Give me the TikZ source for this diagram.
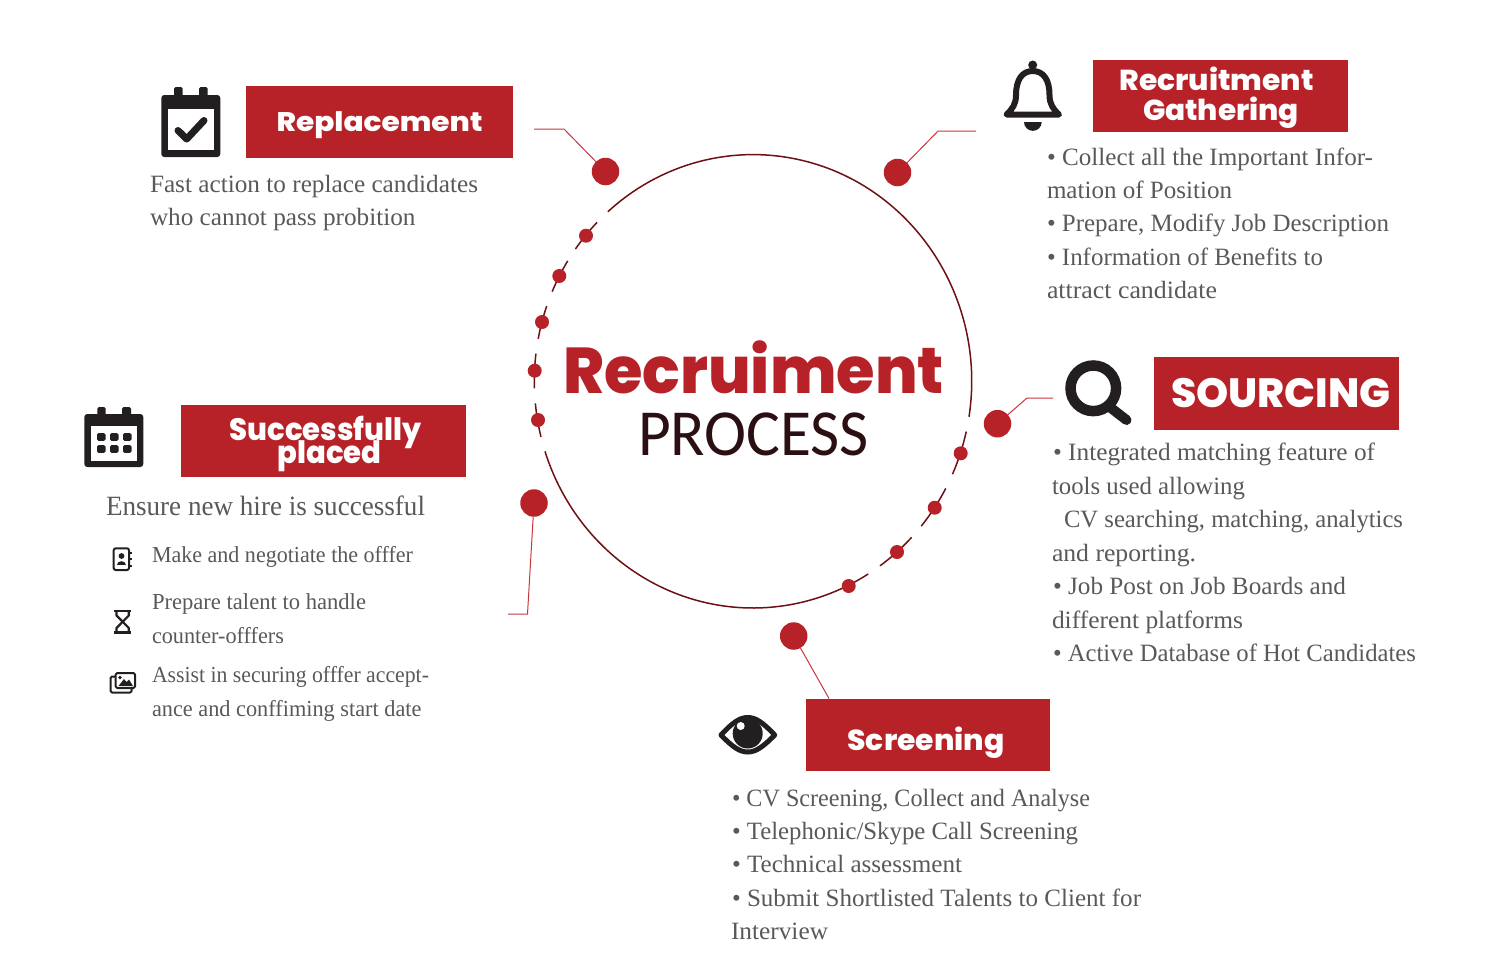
\documentclass[tikz,border=0pt]{standalone}
\usepackage{graphicx}
\usepackage{fontspec}
\setmainfont{Liberation Serif}
\newfontfamily\headf{Poppins}[BoldFont={Poppins ExtraBold}]
\newfontfamily\procf{Carlito}
\definecolor{brand}{HTML}{B72228}
\definecolor{ringc}{HTML}{6E1014}
\definecolor{leadc}{HTML}{C5373D}
\definecolor{bodyc}{HTML}{58595B}
\definecolor{iconc}{HTML}{231F20}
\definecolor{procc}{HTML}{2B0F12}
\newcommand{\bodyline}[6][25]{\node[txt,font=\fontsize{#1}{#1}\selectfont] (#2) at (#3,#4) {\resizebox{#5bp}{\height}{#6}};}
\newcommand{\headline}[6][27]{\node[hd,font=\headf\bfseries\fontsize{#1}{#1}\selectfont] (#2) at (#3,#4) {\resizebox{#5bp}{\height}{#6}};}
\tikzset{
  txt/.style={anchor=base west,inner sep=0pt,outer sep=0pt,text=bodyc},
  hd/.style={anchor=base west,inner sep=0pt,outer sep=0pt,text=white},
  banner/.style={fill=brand,draw=none,inner sep=0pt,outer sep=0pt,anchor=north west},
  bigdot/.style={circle,fill=brand,draw=none,minimum size=27.5bp,inner sep=0pt,outer sep=0pt},
  smalldot/.style={circle,fill=brand,draw=none,minimum size=14bp,inner sep=0pt,outer sep=0pt},
  ringarc/.style={draw=ringc,line width=1.5bp},
  leader/.style={draw=leadc,line width=1bp},
  iconfill/.style={fill=iconc,draw=none},
  iconline/.style={draw=iconc,fill=none,line width=2bp,line join=round},
}
\begin{document}
\begin{tikzpicture}[x=1bp,y=-1bp]
\useasboundingbox (0,0) rectangle (1500,956);
% ring
\foreach \a/\b in {351/491.6,135.5/144.3,147.9/156.7,160.6/169.2,173/181.8,185.6/194.2,198/301.8,305.5/316.5,320.3/331.8,335.8/347.2}
  \draw[ringarc] ({753+218.7*cos(\a)},{381.3-226.7*sin(\a)}) arc[start angle=\a,end angle=\b,x radius=218.7bp,y radius=226.7bp];
\foreach \n/\x/\y in {1/586/235.7,2/559.3/276,3/542/322,4/534.7/370.7,5/538/420,6/960.7/453.3,7/934.7/507.7,8/897/552,9/848.7/586}
  \node[smalldot] (sd\n) at (\x,\y) {};
% banners
\node[banner,minimum width=267bp,minimum height=72.5bp] (bRepl) at (246,85.5) {};
\node[banner,minimum width=284.5bp,minimum height=72.5bp] (bSucc) at (181,404.5) {};
\node[banner,minimum width=254.5bp,minimum height=72.5bp] (bGath) at (1093.3,59.5) {};
\node[banner,minimum width=244.5bp,minimum height=72.5bp] (bSour) at (1154,357) {};
\node[banner,minimum width=244bp,minimum height=72.5bp] (bScre) at (806.3,698.5) {};
% big dots and leaders
\node[bigdot] (dRepl) at (605.5,171.5) {};
\node[bigdot] (dGath) at (897.5,172.5) {};
\node[bigdot] (dSour) at (997.5,423.7) {};
\node[bigdot] (dSucc) at (534,503) {};
\node[bigdot] (dScre) at (793.7,636) {};
\coordinate (eRepl) at (534,129);
\coordinate (eGath) at (976,131);
\coordinate (eSour) at (1053,398);
\coordinate (eSucc) at (508,614);
\coordinate (eScre) at (829,698.5);
\draw[leader] (eRepl) -- (564,129) -- (dRepl);
\draw[leader] (eGath) -- (938,131) -- (dGath);
\draw[leader] (eSour) -- (1027,398) -- (dSour);
\draw[leader] (eSucc) -- (527.5,614) -- (dSucc);
\draw[leader] (eScre) -- (dScre);
% title
\node[hd,text=brand,font=\headf\bfseries\fontsize{65}{65}\selectfont] (tTitle) at (563,393.5) {\resizebox{381bp}{\height}{Recruiment}};
\node[hd,text=procc,font=\procf\fontsize{66}{66}\selectfont] (tProc) at (638,455.5) {\resizebox{231bp}{\height}{PROCESS}};
% headings
\headline{hRepl}{276.5}{131}{206}{Replacement}
\headline[31]{hSuc1}{229.5}{440.5}{192}{Successfully}
\headline[31]{hSuc2}{277.5}{463.5}{104}{placed}
\headline[29]{hGat1}{1119.5}{90}{194}{Recruitment}
\headline[29]{hGat2}{1143}{120}{156}{Gathering}
\headline[41]{hSour}{1171}{407.5}{219.5}{SOURCING}
\headline[29]{hScre}{847.5}{750.5}{157}{Screening}
% body text
\bodyline{t1}{150}{192.7}{328}{Fast action to replace candidates}
\bodyline{t2}{150}{225}{265.5}{who cannot pass probition}
\bodyline[28]{t3}{106}{515}{319}{Ensure new hire is successful}
\bodyline[23]{t4}{152}{562.3}{261}{Make and negotiate the offfer}
\bodyline[23]{t5}{152}{609}{214}{Prepare talent to handle}
\bodyline[23]{t6}{152}{643}{132}{counter-offfers}
\bodyline[23]{t7}{152}{682.7}{277}{Assist in securing offfer accept-}
\bodyline[23]{t8}{152}{716}{269.5}{ance and conffiming start date}
\bodyline{g1}{1047}{165}{326}{• Collect all the Important Infor-}
\bodyline{g2}{1047}{198}{185}{mation of Position}
\bodyline{g3}{1047}{231}{342}{• Prepare, Modify Job Description}
\bodyline{g4}{1047}{265}{276}{• Information of Benefits to}
\bodyline{g5}{1047}{298}{170}{attract candidate}
\bodyline{s1}{1053}{460.5}{322}{• Integrated matching feature of}
\bodyline{s2}{1052}{494}{193}{tools used allowing}
\bodyline{s3}{1064}{527.5}{339}{CV searching, matching, analytics}
\bodyline{s4}{1052}{561}{144}{and reporting.}
\bodyline{s5}{1053}{594}{293}{• Job Post on Job Boards and}
\bodyline{s6}{1052}{628}{191}{different platforms}
\bodyline{s7}{1053}{661}{363}{• Active Database of Hot Candidates}
\bodyline{c1}{732}{806}{358}{• CV Screening, Collect and Analyse}
\bodyline{c2}{732}{839}{346}{• Telephonic/Skype Call Screening}
\bodyline{c3}{732}{872}{230}{• Technical assessment}
\bodyline{c4}{732}{906}{409}{• Submit Shortlisted Talents to Client for}
\bodyline{c5}{731}{939}{97}{Interview}
% calendar with check
\fill[iconc,rounded corners=3bp] (161.3,95) rectangle (220.3,157);
\fill[iconc,rounded corners=1.5bp] (174,87) rectangle (182.5,100);
\fill[iconc,rounded corners=1.5bp] (199,87) rectangle (207.5,100);
\fill[white] (168,109) rectangle (214,150);
\draw[iconc,line width=7bp,line cap=round,line join=round] (178,130.5) -- (186.7,139) -- (204,120.5);
% calendar with grid
\fill[iconc,rounded corners=3bp] (84.3,414) rectangle (143.3,467);
\fill[iconc,rounded corners=1.5bp] (97.3,407) rectangle (105.7,418);
\fill[iconc,rounded corners=1.5bp] (122,407) rectangle (131,418);
\fill[white] (91,426) rectangle (137,460.7);
\foreach \x in {97,110,123}\foreach \y in {433,445}
  \fill[iconc,rounded corners=1.5bp] (\x,\y) rectangle ++(8.5,7.8);
% bell
\draw[iconc,line width=6bp,line join=round] (1006.5,114.5) .. controls (1012.5,109) and (1016,104) .. (1016,95) .. controls (1016,80) and (1022,71) .. (1032.7,71) .. controls (1043.5,71) and (1049.5,80) .. (1049.5,95) .. controls (1049.5,104) and (1053,109) .. (1059,114.5) -- cycle;
\fill[iconc] (1032.7,65) circle (4.5bp);
\fill[iconc] (1024,122) -- (1041.7,122) arc[start angle=0,end angle=-180,radius=8.85bp] -- cycle;
% magnifier
\draw[iconc,line width=10.5bp] (1093.3,388.3) circle (22.8bp);
\draw[iconc,line width=10bp,line cap=round] (1111,408) -- (1126.5,420);
% eye
\draw[iconc,line width=5bp,line join=round] (721,735) .. controls (733,722) and (740,717.5) .. (747.7,717.5) .. controls (755.5,717.5) and (762.5,722) .. (774.7,735) .. controls (762.5,747.5) and (755.5,752) .. (747.7,752) .. controls (740,752) and (733,747.5) .. (721,735) -- cycle;
\fill[iconc] (747.7,733.5) circle (15bp);
\fill[white] (740.7,726) circle (4bp);
% address book
\draw[iconline,rounded corners=2bp] (113.7,548.3) rectangle (129,570);
\foreach \y in {552.5,559,565.5} \draw[iconc,line width=2bp] (129,\y) -- (132,\y);
\fill[iconc] (121.5,556) circle (2.9bp);
\fill[iconc] (116.7,565.2) .. controls (116.7,559.5) and (126.3,559.5) .. (126.3,565.2) -- cycle;
% hourglass
\draw[iconc,line width=2.4bp] (114.3,611) -- (131,611) (114.3,632.5) -- (131,632.5);
\draw[iconc,line width=2.2bp,line join=round] (116.5,611) -- (116.5,615.5) -- (122.7,621.7) -- (116.5,628) -- (116.5,632.5) (128.8,611) -- (128.8,615.5) -- (122.7,621.7) -- (128.8,628) -- (128.8,632.5);
% images
\draw[iconline,rounded corners=1.5bp] (115.7,673) rectangle (135,688);
\draw[iconline,rounded corners=1.5bp] (115.5,676.5) -- (110.5,676.5) -- (110.5,692.5) -- (131.7,692.5) -- (131.7,688);
\fill[iconc] (118.5,686) -- (124,679) -- (126.5,682) -- (129,679.5) -- (133,686) -- cycle;
\fill[iconc] (120,677.5) circle (1.9bp);
\end{tikzpicture}
\end{document}
